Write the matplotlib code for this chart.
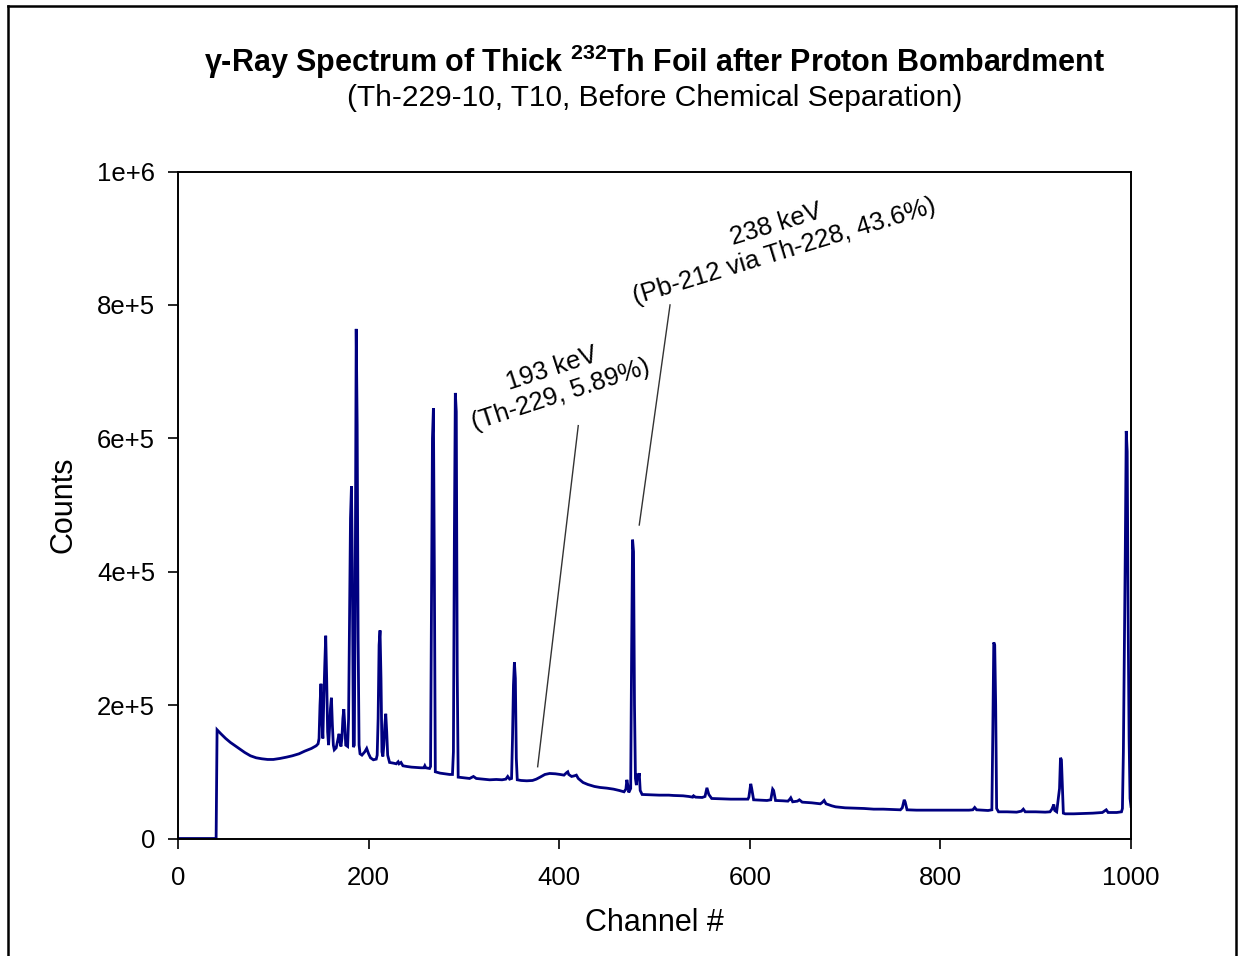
import matplotlib
matplotlib.use("Agg")
import matplotlib.pyplot as plt
from matplotlib.lines import Line2D

plt.rcParams['font.family'] = ['Liberation Sans', 'DejaVu Sans']
plt.rcParams['mathtext.fontset'] = 'custom'
plt.rcParams['mathtext.rm'] = 'Liberation Sans'
plt.rcParams['mathtext.bf'] = 'Liberation Sans:bold'

# ---- data ----
channel = [0, 40, 41, 45, 50, 55, 62, 70, 76, 82, 88, 94, 100, 107, 114, 120, 127, 133, 140, 145,
           147, 148, 149, 150, 151, 152, 153, 154, 155, 156, 157, 158, 159, 160, 161, 162, 163, 164,
           166, 168, 169, 170, 171, 172, 173, 174, 175, 176, 178, 179, 180, 181, 182, 183, 184, 185,
           186, 187, 188, 189, 190, 191, 193, 196, 198, 200, 202, 205, 208, 209, 210, 211, 212, 213,
           214, 215, 216, 217, 218, 219, 220, 222, 226, 229, 231, 232, 234, 236, 240, 245, 250, 255,
           258, 259, 260, 264, 265, 266, 267, 268, 269, 270, 275, 280, 285, 288, 289, 290, 291, 292,
           293, 294, 300, 306, 310, 313, 320, 327, 334, 340, 344, 346, 348, 350, 351, 352, 353, 354,
           355, 356, 360, 366, 372, 376, 380, 385, 390, 396, 401, 405, 408, 409, 410, 413, 416, 418,
           420, 425, 430, 437, 443, 450, 457, 463, 468, 470, 471, 472, 473, 475, 476, 477, 478, 479,
           480, 481, 482, 483, 484, 485, 487, 495, 505, 515, 520, 530, 536, 540, 541, 543, 550, 553,
           555, 557, 560, 570, 580, 590, 598, 599, 601, 602, 604, 610, 618, 622, 624, 625, 627, 635,
           640, 642, 643, 645, 650, 652, 655, 665, 674, 676, 678, 680, 686, 690, 700, 710, 720, 730,
           740, 750, 758, 760, 762, 763, 765, 775, 790, 800, 815, 830, 834, 836, 838, 850, 854, 855,
           856, 857, 858, 859, 861, 870, 880, 885, 887, 889, 900, 910, 915, 917, 919, 920, 922, 925,
           926, 927, 928, 929, 931, 940, 950, 960, 970, 974, 976, 985, 990, 991, 992, 993, 994, 995,
           996, 997, 998, 999, 1000]
counts = [0, 0, 163000, 157000, 150000, 144000, 137000, 129000, 124000, 121000, 119500, 118500,
          118500, 120000, 122000, 124000, 127000, 131000, 135000, 139000,
          142000, 150000, 200000, 232000, 180000, 150000, 210000, 260000, 304000, 240000, 160000,
          140000, 165000, 195000, 211000, 170000, 140000, 133000,
          136000, 150000, 157000, 145000, 138000, 150000, 180000, 194000, 170000, 140000, 138000,
          180000, 330000, 480000, 528000, 400000, 137000, 140000,
          380000, 764000, 620000, 300000, 140000, 127000, 125000, 130000, 135000, 127000, 121000,
          118000, 119000, 125000, 180000, 290000, 312000, 240000,
          130000, 123000, 140000, 170000, 187000, 160000, 125000, 114000, 113000, 112000, 115000,
          112000, 114000, 109000, 108000, 107000, 106500, 106000,
          106000, 109000, 106000, 105000, 108000, 350000, 600000, 645000, 400000, 100000, 98000,
          97000, 96000, 96000, 130000, 450000, 668000, 640000,
          250000, 92000, 91000, 90000, 93000, 90000, 89000, 88000, 88500, 88000, 89000, 93000, 89000,
          90000, 150000, 230000, 264000, 240000,
          120000, 88000, 87000, 86500, 87000, 89000, 92000, 96000, 97500, 97000, 96000, 95000, 99000,
          100000, 96000, 93000, 94000, 95000,
          90000, 84000, 81000, 78000, 76500, 75500, 74000, 72000, 70000, 74000, 88000, 80000, 69000,
          75000, 280000, 448000, 430000, 200000,
          90000, 80000, 97000, 90000, 98000, 72000, 66000, 65500, 65000, 65000, 64500, 64000, 63000,
          62000, 64000, 62000, 61500, 63000,
          76000, 66000, 60000, 59500, 59000, 59000, 59000, 62000, 82000, 75000, 58000, 57500, 57000,
          58000, 74000, 72000, 57000, 56500,
          56000, 59000, 61000, 55000, 56000, 58000, 54500, 53500, 52000, 54000, 57000, 52000, 49000,
          47500, 46000, 45500, 45000, 44000,
          44000, 43500, 43000, 46000, 58000, 55000, 43000, 42500, 42500, 42500, 42500, 42500, 43000,
          46500, 43000, 42000, 43000, 160000,
          294000, 290000, 200000, 45000, 40000, 40000, 39500, 41000, 44000, 40000, 40000, 39500,
          40000, 44000, 51000, 42000, 40000, 75000,
          121000, 118000, 80000, 38000, 37000, 37000, 37500, 38000, 39000, 43000, 39000, 39000, 40000,
          45000, 130000, 280000, 430000, 611000,
          580000, 330000, 150000, 60000, 48000]

x_ticks = [0, 200, 400, 600, 800, 1000]
y_ticks = [0, 200000, 400000, 600000, 800000, 1000000]
y_tick_labels = ['0', '2e+5', '4e+5', '6e+5', '8e+5', '1e+6']

annot_texts = ['193 keV\n(Th-229, 5.89%)', '238 keV\n(Pb-212 via Th-228, 43.6%)']
annot_text_xy = [(397.0, 685000), (632.0, 900000)]
annot_line_start = [(420, 619000), (516.3, 800000)]
annot_line_end = [(377.4, 107600), (484, 470000)]
annot_rot = [18, 17]

# ---- figure ----
W, H = 1241, 956
fig = plt.figure(figsize=(W / 100, H / 100), dpi=100)
fig.patch.set_facecolor('white')

ax = fig.add_axes([178 / W, 1 - 838.5 / H, (1131 - 178) / W, (838.5 - 171.5) / H])
ax.plot(channel, counts, color='#000080', lw=2.0, solid_joinstyle='miter')
ax.set_xlim(0, 1000)
ax.set_ylim(0, 1000000)
ax.set_xticks(x_ticks)
ax.set_xticklabels([str(t) for t in x_ticks])
ax.set_yticks(y_ticks)
ax.set_yticklabels(y_tick_labels)
ax.tick_params(axis='both', direction='out', length=7.5, width=1.2, labelsize=18.5,
               colors='black')
ax.tick_params(axis='y', pad=9)
ax.tick_params(axis='x', pad=12)
for sp in ax.spines.values():
    sp.set_linewidth(1.4)
    sp.set_color('black')

ax.set_xlabel('Channel #', fontsize=22, labelpad=13)
ax.set_ylabel('Counts', fontsize=22, labelpad=13)

for txt, xy, s, e, r in zip(annot_texts, annot_text_xy, annot_line_start, annot_line_end, annot_rot):
    ax.text(xy[0], xy[1], txt, fontsize=18.5, rotation=r, rotation_mode='anchor',
            ha='center', va='center', multialignment='center', linespacing=1.2)
    ax.plot([s[0], e[0]], [s[1], e[1]], color='#333333', lw=1.0)

cx = (178 + 1131) / 2 / W
fig.text(cx, 1 - 62 / H, 'γ-Ray Spectrum of Thick $^{\\mathbf{232}}$Th Foil after Proton Bombardment',
         ha='center', va='center', fontsize=22, fontweight='bold')
fig.text(cx, 1 - 98 / H, '(Th-229-10, T10, Before Chemical Separation)',
         ha='center', va='center', fontsize=21.5)

# outer frame
for (x0, y0, x1, y1) in [(8, 6, 1236, 6), (8, 6, 8, 960), (1236, 6, 1236, 960)]:
    fig.add_artist(Line2D([x0 / W, x1 / W], [1 - y0 / H, 1 - y1 / H], color='black', lw=1.8,
                          transform=fig.transFigure))

fig.savefig('out.png', dpi=100)
